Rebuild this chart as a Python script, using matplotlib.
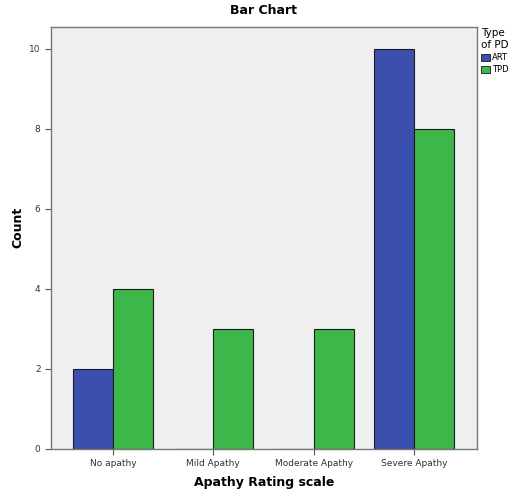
import matplotlib.pyplot as plt
import numpy as np
from matplotlib.patches import Patch

categories = ["No apathy", "Mild Apathy", "Moderate Apathy", "Severe Apathy"]
art_counts = [2, 0, 0, 10]
tpd_counts = [4, 3, 3, 8]
groups = ["ART", "TPD"]
colors = ["#3B4FAE", "#3CB84A"]

fig = plt.figure(figsize=(5.14, 4.96), dpi=100)
ax = fig.add_axes([0.0992, 0.0948, 0.8288, 0.8508])
ax.set_facecolor("#EFEFEF")

x = np.arange(len(categories))
w = 0.4
ax.bar(x - w / 2, art_counts, w, color=colors[0], edgecolor="#1a1a1a", linewidth=0.8)
ax.bar(x + w / 2, tpd_counts, w, color=colors[1], edgecolor="#1a1a1a", linewidth=0.8)

ax.set_xlim(-0.62, 3.63)
ax.set_ylim(0, 10.55)
ax.set_yticks([0, 2, 4, 6, 8, 10])
ax.set_xticks(x)
ax.set_xticklabels(categories, fontsize=6.5, color="#333333")
ax.tick_params(axis="y", labelsize=6.5, labelcolor="#333333", length=4, color="#555555")
ax.tick_params(axis="x", length=4, color="#555555", pad=3)
for s in ax.spines.values():
    s.set_color("#777777")
    s.set_linewidth(1.0)

ax.set_xlabel("Apathy Rating scale", fontsize=9, fontweight="bold", labelpad=6)
fig.text(18 / 514, 1 - 227 / 496, "Count", rotation=90, ha="center", va="center",
         fontsize=9, fontweight="bold")
ax.set_title("Bar Chart", fontsize=9, fontweight="bold", pad=9)

handles = [Patch(facecolor=c, edgecolor="#1a1a1a", linewidth=0.6) for c in colors]
leg = fig.legend(handles, groups, title="Type\nof PD", loc="upper left",
                 bbox_to_anchor=(0.925, 0.955), frameon=False, fontsize=6,
                 title_fontsize=7.5, handlelength=1.0, handleheight=1.0,
                 handletextpad=0.3, labelspacing=0.4, borderpad=0.2)
leg._legend_box.align = "left"

fig.savefig("out.png", dpi=100)
